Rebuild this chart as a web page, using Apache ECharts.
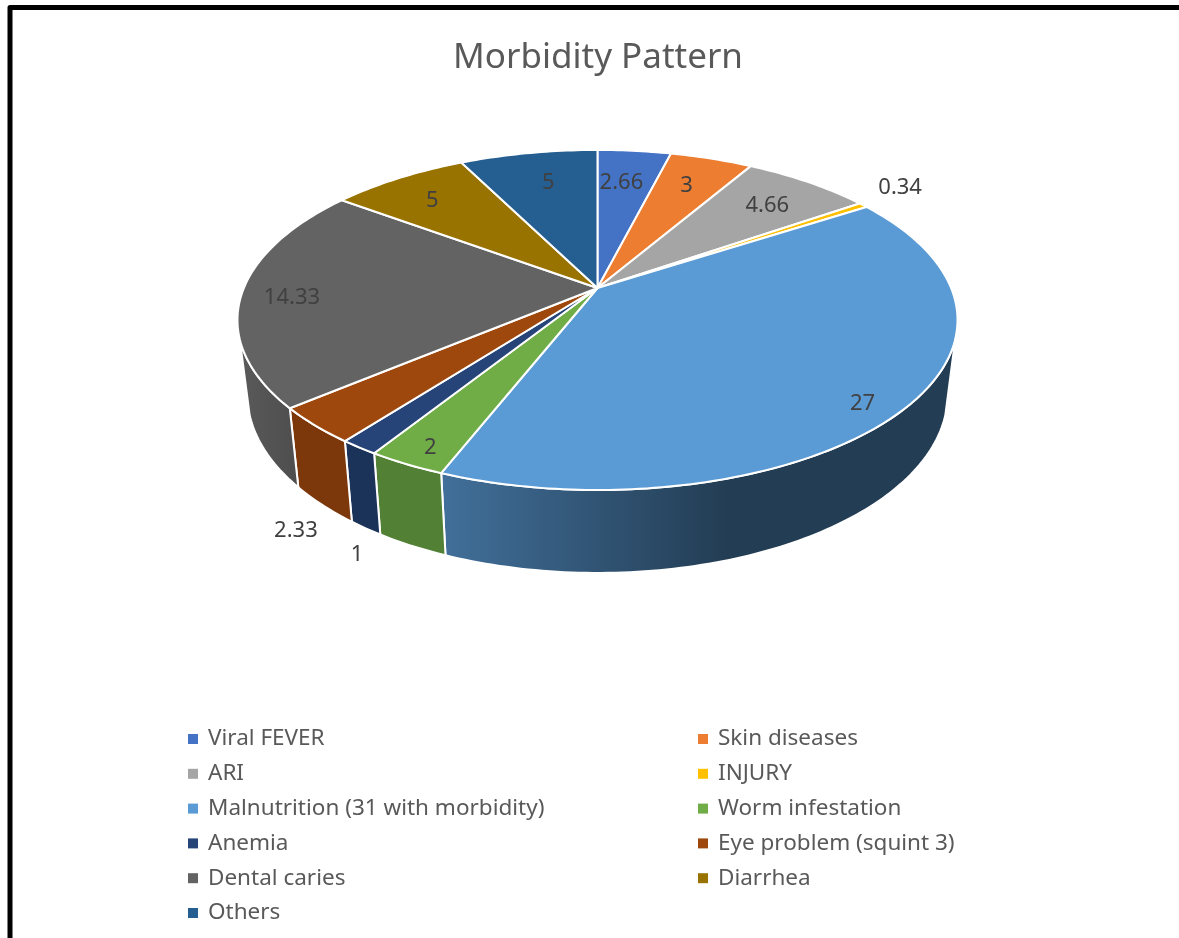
<!DOCTYPE html>
<html>
<head>
<meta charset="utf-8">
<title>Morbidity Pattern</title>
<style>
  html,body{margin:0;padding:0;background:#fff;}
  #chart{width:1179px;height:938px;}
</style>
<script src="https://cdn.jsdelivr.net/npm/echarts@6/dist/echarts.min.js"></script>
</head>
<body>
<div id="chart"></div>
<script>
var categories = ["Viral FEVER","Skin diseases","ARI","INJURY","Malnutrition (31 with morbidity)","Worm infestation","Anemia","Eye problem (squint 3)","Dental caries","Diarrhea","Others"];
var values = [2.66,3,4.66,0.34,27,2,1,2.33,14.33,5,5];

//顶面和侧面的颜色
var topColors = ["#4472C4","#ED7D31","#A5A5A5","#FFC000","#5B9BD5","#70AD47","#264478","#9E480E","#636363","#997300","#255E91"];
var wallColors = ["#335693","#B25E25","#7C7C7C","#BF9000",
  {type:"linear",global:true,x:445,y:0,x2:957,y2:0,colorStops:[{offset:0,color:"#416F99"},{offset:0.55,color:"#233D54"},{offset:1,color:"#233D54"}]},
  "#528035","#1C3359","#7C380B",
  {type:"linear",global:true,x:238,y:0,x2:297,y2:0,colorStops:[{offset:0,color:"#5A5A5A"},{offset:1,color:"#4E4E4E"}]},
  "#735600","#1C466D"];
//标签相对于扇形外缘中点的偏移
var labelOffsets = [[-13,32],[-25,27],[-41,24],[37,-17],[-46,-2],[24,-16],[-2,107],[-19,105],[50,5],[34,22],[20,30]];

(function(){
    var myChart = echarts.init(document.getElementById("chart"));
    var font = '"Noto Sans","Open Sans",sans-serif';

    //透视椭圆：上沿和下沿
    var topRim = {cx:597.5,cy:288,a:353.6,b:164,k:0.188};
    var lowRim = {cx:597.5,cy:361.5,a:343.8,b:171.7,k:0.188};
    //侧面只在这个角度范围内可见
    var wallStart = 107, wallEnd = 253;

    var total = 0;
    var starts = [];
    values.forEach(function(v){
        starts.push(total);
        total += v;
    });

    function project(rim,deg){
        var t = deg*Math.PI/180;
        var d = 1+rim.k*Math.cos(t);
        return [rim.cx+rim.a*Math.sin(t)/d, rim.cy-rim.b*Math.cos(t)/d];
    }
    function arc(rim,from,to){
        var pts = [];
        var n = Math.max(2,Math.ceil(Math.abs(to-from)));
        for(var i=0;i<=n;i++){
            pts.push(project(rim,from+(to-from)*i/n));
        }
        return pts;
    }

    function renderItem(params,api){
        var i = params.seriesIndex;
        var a1 = starts[i]/total*360;
        var a2 = a1+api.value(0)/total*360;
        var children = [];

        //侧面
        var w1 = Math.max(a1,wallStart), w2 = Math.min(a2,wallEnd);
        if(w2>w1){
            children.push({
                type:"polygon",
                z2:1,
                shape:{points:arc(topRim,w1,w2).concat(arc(lowRim,w2,w1))},
                style:{fill:wallColors[i],stroke:"#fff",lineWidth:2}
            });
        }
        //顶面
        children.push({
            type:"polygon",
            z2:2,
            shape:{points:[[topRim.cx,topRim.cy]].concat(arc(topRim,a1,a2))},
            style:{fill:topColors[i],stroke:"#fff",lineWidth:2,lineJoin:"round"}
        });
        //数值标签
        var mid = project(topRim,(a1+a2)/2);
        children.push({
            type:"text",
            z2:3,
            style:{
                x:mid[0]+labelOffsets[i][0],
                y:mid[1]+labelOffsets[i][1],
                text:String(api.value(0)),
                fill:"#404040",
                font:"22px "+font,
                align:"center",
                verticalAlign:"middle"
            }
        });
        return {type:"group",children:children};
    }

    var series = categories.map(function(name,i){
        return {
            name:name,
            type:"custom",
            coordinateSystem:"none",
            renderItem:renderItem,
            itemStyle:{color:topColors[i]},
            silent:true,
            data:[[values[i]]]
        };
    });

    function legend(left,names){
        return {
            orient:"vertical",
            left:left,
            top:727,
            padding:0,
            itemWidth:10,
            itemHeight:10,
            itemGap:10.8,
            icon:"rect",
            selectedMode:false,
            textStyle:{color:"#595959",fontSize:22.5,fontFamily:font,lineHeight:24,padding:[0,0,0,5]},
            data:names
        };
    }

    var option = {
        animation:false,
        backgroundColor:"#fff",
        title:{
            text:"Morbidity Pattern",
            left:598,
            top:41,
            padding:0,
            textAlign:"center",
            textStyle:{color:"#595959",fontSize:35,fontWeight:"normal",fontFamily:font}
        },
        legend:[
            legend(188,categories.filter(function(c,i){return i%2==0;})),
            legend(698,categories.filter(function(c,i){return i%2==1;}))
        ],
        //外框
        graphic:[{
            type:"polyline",
            silent:true,
            shape:{points:[[10,938],[10,7.5],[1179,7.5]]},
            style:{stroke:"#000",lineWidth:5,fill:null,lineJoin:"round"}
        }],
        series:series
    };

    myChart.setOption(option);
    window.addEventListener("resize",function(){
        myChart.resize();
    });
})();
</script>
</body>
</html>
